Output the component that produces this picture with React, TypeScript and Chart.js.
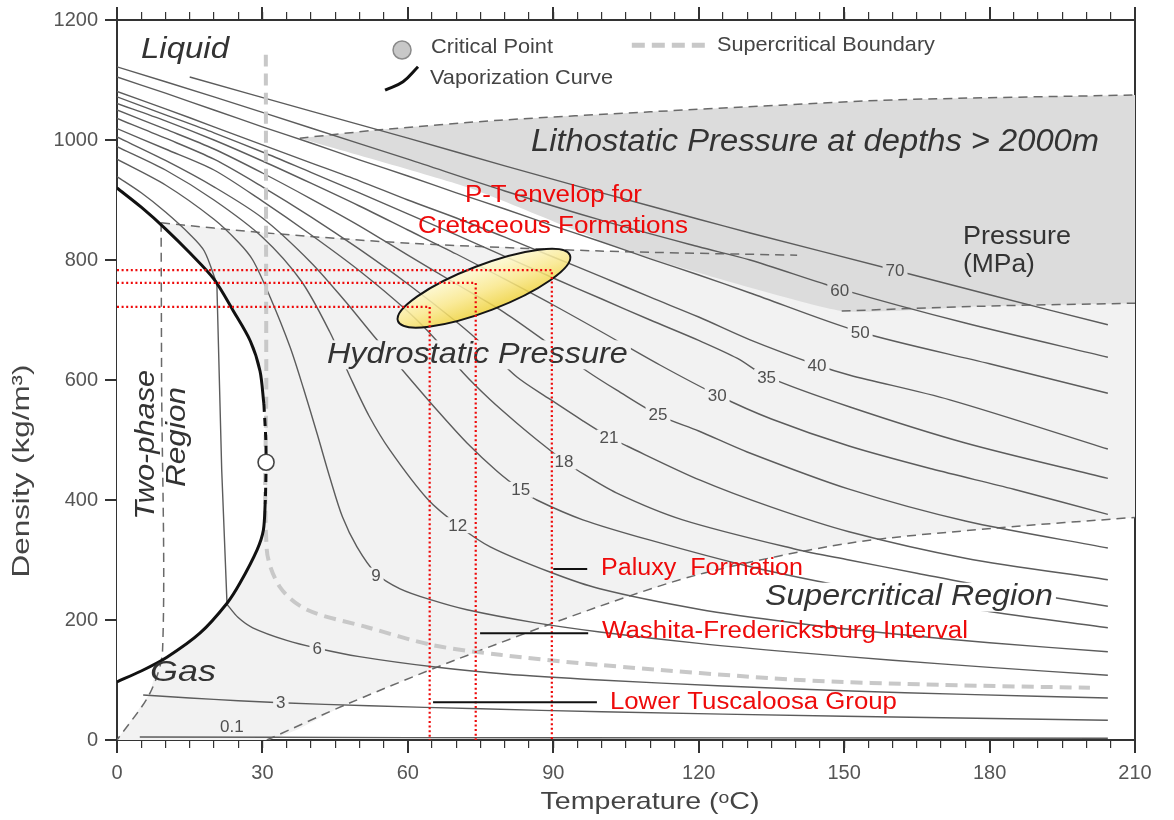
import React, { useEffect, useRef } from 'react';
import { Chart, registerables } from 'chart.js';

Chart.register(...registerables);

type Pt = [number, number];

const FONT = '"Liberation Sans", Arial, Helvetica, sans-serif';
const RED = '#ee0a0a';
const LIGHT = '#f2f2f2';
const DARK = '#dcdcdc';
const ISO = '#5c5c5c';
const DASH = '#6a6a6a';

// ---------- axes ----------
const T_MIN = 0;
const T_MAX = 210;
const D_MIN = 0;
const D_MAX = 1200;

// ---------- isobars (MPa) : [temperature degC, density kg/m3] ----------
const iso01: Pt[] = [[4.7, 5], [60, 4], [130, 3.5], [204.4, 3]];
const iso3: Pt[] = [[5.4, 75], [15, 70], [25, 65.5], [33.8, 62], [52, 57], [75, 52], [100, 47], [150, 39.5], [204.4, 33]];
const iso6Liquid: Pt[] = [[0, 939], [5, 912], [10, 880], [15, 843], [18, 815], [20.6, 760]];
const iso6TwoPhase: Pt[] = [[20.6, 760], [21.6, 450], [22.7, 226]];
const iso6Gas: Pt[] = [[22.7, 226], [25, 204], [28, 187], [35, 166], [41.3, 153], [50, 139], [65.2, 122], [80, 110], [99.6, 100], [125, 90], [150, 82], [175, 76], [204.4, 70]];
const iso9: Pt[] = [[0, 968], [10, 925], [20, 868], [25, 830], [28, 800], [31.6, 738], [35.7, 655], [38.5, 585], [41.3, 510], [44, 435], [46.5, 372], [49.5, 322], [53.4, 278], [58.4, 252], [65, 233], [72.2, 217], [85.8, 196], [99.6, 180], [120, 161], [140, 146], [160, 133], [180, 121], [204.4, 108]];
const iso12: Pt[] = [[0, 989], [10, 950], [20, 900], [30, 838], [38, 765], [43.9, 680], [48.1, 605], [52, 540], [56.3, 483], [64, 402], [70.3, 358], [77, 322], [89.3, 280], [99.6, 252], [120, 218], [140, 195], [160, 177], [180, 162], [204.4, 147]];
const iso15: Pt[] = [[0, 1005], [10, 966], [20, 922], [30, 870], [40, 796], [47, 732], [52.8, 675], [59.8, 608], [66, 550], [72.2, 495], [78.4, 448], [83.3, 417], [86.6, 400], [96.1, 367], [110, 333], [130, 290], [150, 256], [175, 220], [204.4, 187]];
const iso18: Pt[] = [[0, 1019], [10, 985], [20, 950], [30, 898], [40, 842], [50, 782], [60, 714], [66, 665], [71.4, 612], [77, 567], [82.5, 528], [87.9, 492], [92.2, 465], [94.9, 450], [103, 412], [116.7, 367], [140, 318], [151, 300], [165, 278], [180, 255], [204.4, 223]];
const iso21: Pt[] = [[0, 1036], [10, 1003], [20, 968], [30, 922], [40, 872], [50, 818], [60, 760], [70, 697], [76, 655], [82.5, 605], [89.3, 568], [96.1, 532], [101.5, 505], [105.2, 490], [120.3, 433], [135, 388], [151, 347], [175, 303], [204.4, 267]];
const iso25: Pt[] = [[0, 1050], [10, 1018], [20, 985], [30, 945], [40, 902], [50, 857], [60, 808], [70, 760], [80, 712], [90, 655], [96.9, 615], [103.1, 583], [111.6, 542], [120, 515], [130, 480], [151, 418], [175, 365], [204.4, 320]];
const iso30: Pt[] = [[0, 1061], [10, 1032], [20, 1000], [30, 965], [40, 928], [50, 890], [60, 850], [70, 810], [80, 768], [90, 725], [100, 680], [112, 625], [123.8, 575], [135, 535], [151, 490], [168, 452], [185, 418], [204.4, 376]];
const iso35: Pt[] = [[0, 1072], [10, 1042], [20, 1012], [30, 980], [40, 946], [50, 912], [60, 877], [70, 842], [80, 806], [90, 770], [100, 735], [110, 700], [120, 666], [128, 636], [134, 606], [151.2, 555], [175, 495], [204.4, 436]];
const iso40: Pt[] = [[0, 1081], [10, 1052], [20, 1022], [30, 992], [40, 962], [50, 932], [60, 900], [70, 870], [80, 838], [90, 805], [100, 772], [110, 738], [120, 705], [130.6, 667], [144.4, 625], [151.2, 608], [171.8, 567], [204.4, 485]];
const iso50: Pt[] = [[0, 1105], [10, 1078], [20, 1050], [30, 1022], [40, 995], [50, 967], [60, 940], [70, 912], [80, 885], [90, 857], [100, 830], [110, 802], [120, 775], [130.6, 745], [153.3, 680], [180, 627], [204.4, 578]];
const iso60: Pt[] = [[0, 1122], [20, 1072], [40, 1020], [60, 968], [80, 915], [100, 866], [120, 822], [130.6, 800], [149.1, 752], [175, 695], [204.4, 638]];
const iso70: Pt[] = [[15, 1105], [40, 1048], [60, 1003], [80, 957], [100, 912], [120, 868], [130.6, 845], [160.5, 783], [180, 742], [204.4, 692]];

const isobarNames = ['0.1', '3', '6', '9', '12', '15', '18', '21', '25', '30', '35', '40', '50', '60', '70'];
const isobarLabelAt: Pt[] = [[23.7, 22], [33.8, 62], [41.3, 153], [53.4, 274], [70.3, 358], [83.3, 417], [92.2, 464], [101.5, 504], [111.6, 542], [123.8, 575], [134, 605], [144.4, 625], [153.3, 680], [149.1, 750], [160.5, 783]];

// ---------- phase boundaries ----------
const vapUpper: Pt[] = [[0, 920], [5, 888], [10, 852], [15, 812], [20, 768], [24, 715], [27.5, 665], [29.5, 615], [30.3, 560]];
const vapNearCritical: Pt[] = [[30.3, 560], [30.7, 500], [30.75, 463], [30.7, 430], [30.6, 400]];
const vapLower: Pt[] = [[30.6, 400], [30.2, 350], [28.9, 317], [25.4, 262], [22.7, 228], [17.1, 178], [10.3, 138], [5, 115], [0, 97]];
const criticalPoint: Pt[] = [[30.75, 463]];
const supercriticalBoundary: Pt[] = [[30.7, 1142], [30.8, 600], [30.9, 317], [33.6, 255], [39.2, 217], [51.6, 188], [65.2, 158], [79, 142], [99.6, 125], [140.9, 100], [170, 92], [200.7, 87]];

// region outlines (dashed)
const hydroTop: Pt[] = [[9.1, 862], [30.9, 845], [60.4, 828], [99.6, 815], [140.3, 808]];
const hydroLeft: Pt[] = [[9.1, 862], [9.2, 600], [9.4, 150], [6.8, 78], [0, 0]];
const superLine: Pt[] = [[30.9, 0], [48.1, 62], [70, 134], [99.6, 223], [121, 278], [151, 328], [181, 353], [210, 371]];
const lithoTop: Pt[] = [[37.7, 1003], [54.2, 1017], [79, 1033], [110, 1047], [136.8, 1058], [160.9, 1067], [210, 1075]];
const lithoBottom: Pt[] = [[37.7, 1003], [72.8, 920], [106.4, 812], [149.5, 715], [178.6, 723], [210, 728]];
const lithoBottomDashed: Pt[] = [[149.5, 715], [178.6, 723], [210, 728]];

// filled region boundaries
const hydroFillUpper: Pt[] = [[0, 0], [6.8, 78], [9.1, 150], [9.15, 862], [30.9, 845], [60.4, 828], [99.6, 815], [140.3, 808], [210, 808]];
const hydroFillLower: Pt[] = [[0, 0], [30.9, 0], [48.1, 62], [70, 134], [99.6, 223], [121, 278], [151, 328], [181, 353], [210, 371]];
const twoPhaseFillUpper: Pt[] = [[0, 920], [5, 888], [10, 852], [15, 812], [20, 768], [24, 715], [27.5, 665], [29.5, 615], [30.3, 560], [30.7, 500], [30.75, 463]];
const twoPhaseFillLower: Pt[] = [[0, 97], [5, 115], [10.3, 138], [17.1, 178], [22.7, 228], [25.4, 262], [28.9, 317], [30.2, 350], [30.6, 400], [30.75, 463]];

// ---------- formations ----------
const redLevelPaluxy: Pt[] = [[0, 783], [89.7, 783], [89.7, 0]];
const redLevelWashita: Pt[] = [[0, 762], [74, 762], [74, 0]];
const redLevelTuscaloosa: Pt[] = [[0, 722], [64.5, 722], [64.5, 0]];
const markPaluxy: Pt[] = [[90, 285], [97, 285]];
const markWashita: Pt[] = [[74.9, 178], [97.2, 178]];
const markTuscaloosa: Pt[] = [[65.2, 63], [99, 63]];
const envelopeTips: Pt[] = [[57.96, 698], [93.44, 808]];
const ENVELOPE_HALF_WIDTH_PX = 23;

// ---------- legend glyphs ----------
const legendCritical: Pt[] = [[58.8, 1150]];
const legendVap: Pt[] = [[55.3, 1083], [59, 1097], [62.1, 1122]];
const legendSuper: Pt[] = [[106.2, 1158], [121.3, 1158]];

// ---------- text ----------
type Note = { text: string; t: number; d: number; size: number; w: number; italic?: boolean; color?: string; bg?: string; rot?: boolean };
const notes: Note[] = [
  { text: 'Liquid', t: 4.95, d: 1150, size: 29, w: 88, italic: true, color: '#333' },
  { text: 'Critical Point', t: 64.77, d: 1155, size: 21, w: 122, color: '#444' },
  { text: 'Vaporization Curve', t: 64.56, d: 1103, size: 21, w: 183, color: '#444' },
  { text: 'Supercritical Boundary', t: 123.76, d: 1158, size: 21, w: 218, color: '#444' },
  { text: 'Lithostatic Pressure at depths > 2000m', t: 85.4, d: 996, size: 31, w: 568, italic: true, color: '#333' },
  { text: 'P-T envelop for', t: 71.78, d: 908, size: 23, w: 177, color: RED },
  { text: 'Cretaceous Formations', t: 62.09, d: 855, size: 23, w: 270, color: RED },
  { text: 'Pressure', t: 174.5, d: 838, size: 25, w: 108, color: '#333' },
  { text: '(MPa)', t: 174.5, d: 792, size: 25, w: 72, color: '#333' },
  { text: 'Hydrostatic Pressure', t: 43.3, d: 642, size: 29, w: 301, italic: true, color: '#333', bg: LIGHT },
  { text: 'Two-phase', t: 6.0, d: 492, size: 28, w: 150, italic: true, color: '#333', rot: true },
  { text: 'Region', t: 12.4, d: 505, size: 28, w: 100, italic: true, color: '#333', rot: true },
  { text: 'Gas', t: 6.8, d: 112, size: 29, w: 66, italic: true, color: '#333' },
  { text: 'Supercritical Region', t: 133.66, d: 238, size: 29, w: 288, italic: true, color: '#333', bg: '#ffffff' },
  { text: 'Paluxy  Formation', t: 99.84, d: 285, size: 23, w: 202, color: RED },
  { text: 'Washita-Fredericksburg Interval', t: 100.04, d: 180, size: 23, w: 366, color: RED },
  { text: 'Lower Tuscaloosa Group', t: 101.69, d: 62, size: 23, w: 287, color: RED },
];

function fitText(ctx: CanvasRenderingContext2D, text: string, x: number, y: number, size: number, width: number,
  o: { italic?: boolean; color?: string; bg?: string; rot?: boolean; center?: boolean }) {
  ctx.save();
  ctx.font = `${o.italic ? 'italic ' : ''}${size}px ${FONT}`;
  const w0 = ctx.measureText(text).width || 1;
  const sx = width / w0;
  ctx.translate(x, y);
  if (o.rot) ctx.rotate(-Math.PI / 2);
  const center = o.center || o.rot;
  if (o.bg) {
    ctx.fillStyle = o.bg;
    const left = center ? -width / 2 : 0;
    ctx.fillRect(left - 3, -size * 0.5, width + 6, size * 1.0);
  }
  ctx.scale(sx, 1);
  ctx.fillStyle = o.color || '#333';
  ctx.textAlign = center ? 'center' : 'left';
  ctx.textBaseline = 'middle';
  ctx.fillText(text, 0, 0);
  ctx.restore();
}

function drawOverlay(chart: any) {
  const ctx: CanvasRenderingContext2D = chart.ctx;
  const xs = chart.scales.x;
  const ys = chart.scales.y;
  const X = (t: number) => xs.getPixelForValue(t);
  const Y = (d: number) => ys.getPixelForValue(d);

  // P-T envelope
  const x1 = X(envelopeTips[0][0]), y1 = Y(envelopeTips[0][1]);
  const x2 = X(envelopeTips[1][0]), y2 = Y(envelopeTips[1][1]);
  const a = Math.hypot(x2 - x1, y2 - y1) / 2;
  const b = ENVELOPE_HALF_WIDTH_PX;
  ctx.save();
  ctx.translate((x1 + x2) / 2, (y1 + y2) / 2);
  ctx.rotate(Math.atan2(y2 - y1, x2 - x1));
  const g = ctx.createLinearGradient(0, -b, 0, b);
  g.addColorStop(0, '#fffbd6');
  g.addColorStop(0.55, '#fbe98a');
  g.addColorStop(1, '#f0d33c');
  ctx.beginPath();
  ctx.ellipse(0, 0, a, b, 0, 0, Math.PI * 2);
  ctx.globalAlpha = 0.85;
  ctx.fillStyle = g;
  ctx.fill();
  ctx.globalAlpha = 1;
  ctx.lineWidth = 2;
  ctx.strokeStyle = '#151515';
  ctx.stroke();
  ctx.restore();

  // isobar labels
  ctx.save();
  ctx.font = `17px ${FONT}`;
  ctx.textAlign = 'center';
  ctx.textBaseline = 'middle';
  isobarNames.forEach((name, i) => {
    const px = X(isobarLabelAt[i][0]);
    const py = Y(isobarLabelAt[i][1]);
    const w = ctx.measureText(name).width;
    if (name !== '0.1') {
      ctx.fillStyle = name === '60' || name === '70' ? DARK : LIGHT;
      ctx.fillRect(px - w / 2 - 3, py - 8, w + 6, 16);
    }
    ctx.fillStyle = '#505050';
    ctx.fillText(name, px, py + 1);
  });
  ctx.restore();

  // annotations
  notes.forEach((n) => {
    fitText(ctx, n.text, X(n.t), Y(n.d), n.size, n.w, { italic: n.italic, color: n.color, bg: n.bg, rot: n.rot });
  });

  // axis titles
  const area = chart.chartArea;
  fitText(ctx, 'Temperature (ᵒC)', (area.left + area.right) / 2 + 24, 802, 24, 219, { color: '#444', center: true });
  fitText(ctx, 'Density (kg/m³)', 22, 471, 24, 213, { color: '#444', rot: true });
}

const overlayPlugin = {
  id: 'overlayText',
  beforeDatasetDraw(chart: any, args: any) {
    const ds = chart.data.datasets[args.index];
    if (ds && ds.overlayBefore) drawOverlay(chart);
  },
};

function buildDatasets() {
  const list: any[] = [];
  const add = (data: Pt[], o: any) => {
    list.push({
      type: 'line',
      data: data.map(([x, y]) => ({ x, y })),
      pointRadius: 0,
      pointHoverRadius: 0,
      borderWidth: 0,
      fill: false,
      tension: 0,
      ...o,
    });
  };
  // fills
  add(hydroFillUpper, { fill: '+1', backgroundColor: LIGHT, borderColor: 'rgba(0,0,0,0)' });
  add(hydroFillLower, { borderColor: 'rgba(0,0,0,0)', tension: 0.3 });
  add(twoPhaseFillUpper, { fill: '+1', backgroundColor: '#ffffff', borderColor: 'rgba(0,0,0,0)', tension: 0.3 });
  add(twoPhaseFillLower, { borderColor: 'rgba(0,0,0,0)', tension: 0.3 });
  add(lithoTop, { fill: '+1', backgroundColor: DARK, borderColor: 'rgba(0,0,0,0)', tension: 0.3 });
  add(lithoBottom, { borderColor: 'rgba(0,0,0,0)', tension: 0.15 });
  // dashed outlines
  const dashed = { borderColor: DASH, borderWidth: 1.5, borderDash: [9, 6], tension: 0.3 };
  add(hydroTop, dashed);
  add(hydroLeft, dashed);
  add(superLine, dashed);
  add(lithoTop, dashed);
  add(lithoBottomDashed, dashed);
  // isobars
  const iso = { borderColor: ISO, borderWidth: 1.4, tension: 0.3 };
  [iso01, iso3, iso6Liquid, iso6Gas, iso9, iso12, iso15, iso18, iso21, iso25, iso30, iso35, iso40, iso50, iso60, iso70].forEach((d) => add(d, iso));
  add(iso6TwoPhase, { borderColor: ISO, borderWidth: 1.4, tension: 0 });
  // supercritical boundary
  add(supercriticalBoundary, { borderColor: '#c8c8c8', borderWidth: 4, borderDash: [12, 7], tension: 0.3 });
  // vaporization curve
  add(vapUpper, { borderColor: '#111', borderWidth: 3, tension: 0.3 });
  add(vapNearCritical, { borderColor: '#111', borderWidth: 3, borderDash: [8, 6], tension: 0.3 });
  add(vapLower, { borderColor: '#111', borderWidth: 3, tension: 0.3 });
  // legend glyphs
  add(legendVap, { borderColor: '#111', borderWidth: 3, tension: 0.4 });
  add(legendSuper, { borderColor: '#c8c8c8', borderWidth: 5, borderDash: [13, 7] });
  add(legendCritical, { showLine: false, pointRadius: 9, backgroundColor: '#c8c8c8', borderColor: '#8a8a8a', borderWidth: 1.5 });
  // formation levels
  const red = { borderColor: RED, borderWidth: 2.2, borderDash: [2, 2.6] };
  add(redLevelPaluxy, { ...red, overlayBefore: true });
  add(redLevelWashita, red);
  add(redLevelTuscaloosa, red);
  const mark = { borderColor: '#111', borderWidth: 2 };
  add(markPaluxy, mark);
  add(markWashita, mark);
  add(markTuscaloosa, mark);
  // critical point
  add(criticalPoint, { showLine: false, pointRadius: 8, backgroundColor: '#ffffff', borderColor: '#444', borderWidth: 1.6 });

  const n = list.length;
  list.forEach((d, i) => { d.order = n - i; });
  return list;
}

export default function App() {
  const ref = useRef<HTMLCanvasElement>(null);
  useEffect(() => {
    const canvas = ref.current;
    if (!canvas) return;
    const tickFont = { family: FONT, size: 20 };
    const chart = new Chart(canvas, {
      type: 'line',
      data: { datasets: buildDatasets() },
      plugins: [overlayPlugin],
      options: {
        animation: false,
        responsive: false,
        events: [],
        layout: { padding: 0 },
        plugins: { legend: { display: false }, tooltip: { enabled: false } },
        scales: {
          x: {
            type: 'linear', position: 'bottom', weight: 1, min: T_MIN, max: T_MAX,
            ticks: { stepSize: 30, autoSkip: false, maxRotation: 0, color: '#555', font: tickFont, padding: 8, callback: (v: any) => String(v) },
            grid: { drawOnChartArea: false, drawTicks: true, tickLength: 13, color: '#333', lineWidth: 2 },
            border: { display: true, color: '#333', width: 2 },
            afterFit: (s: any) => { s.height = 80; },
          },
          xMinor: {
            type: 'linear', position: 'bottom', weight: 0, min: T_MIN, max: T_MAX,
            ticks: { stepSize: 5, autoSkip: false, display: false },
            grid: { drawOnChartArea: false, drawTicks: true, tickLength: 8, color: '#333', lineWidth: 1.2 },
            border: { display: false },
            afterFit: (s: any) => { s.height = 0; },
          },
          xTop: {
            type: 'linear', position: 'top', weight: 1, min: T_MIN, max: T_MAX,
            ticks: { stepSize: 30, autoSkip: false, display: false },
            grid: { drawOnChartArea: false, drawTicks: true, tickLength: 13, color: '#333', lineWidth: 2 },
            border: { display: true, color: '#333', width: 2 },
            afterFit: (s: any) => { s.height = 20; },
          },
          xTopMinor: {
            type: 'linear', position: 'top', weight: 0, min: T_MIN, max: T_MAX,
            ticks: { stepSize: 5, autoSkip: false, display: false },
            grid: { drawOnChartArea: false, drawTicks: true, tickLength: 8, color: '#333', lineWidth: 1.2 },
            border: { display: false },
            afterFit: (s: any) => { s.height = 0; },
          },
          y: {
            type: 'linear', position: 'left', min: D_MIN, max: D_MAX,
            ticks: { stepSize: 200, autoSkip: false, color: '#555', font: tickFont, padding: 7, callback: (v: any) => String(v) },
            grid: { drawOnChartArea: false, drawTicks: true, tickLength: 12, color: '#333', lineWidth: 2 },
            border: { display: true, color: '#333', width: 2 },
            afterFit: (s: any) => { s.width = 117; },
          },
          yRight: {
            type: 'linear', position: 'right', min: D_MIN, max: D_MAX,
            ticks: { display: false },
            grid: { display: false },
            border: { display: true, color: '#333', width: 2 },
            afterFit: (s: any) => { s.width = 39; },
          },
        },
      } as any,
    } as any);
    return () => chart.destroy();
  }, []);
  return (
    <div style={{ position: 'absolute', left: 0, top: 0, width: 1174, height: 820, background: '#ffffff' }}>
      <canvas ref={ref} width={1174} height={820} style={{ display: 'block', width: 1174, height: 820 }} />
    </div>
  );
}
